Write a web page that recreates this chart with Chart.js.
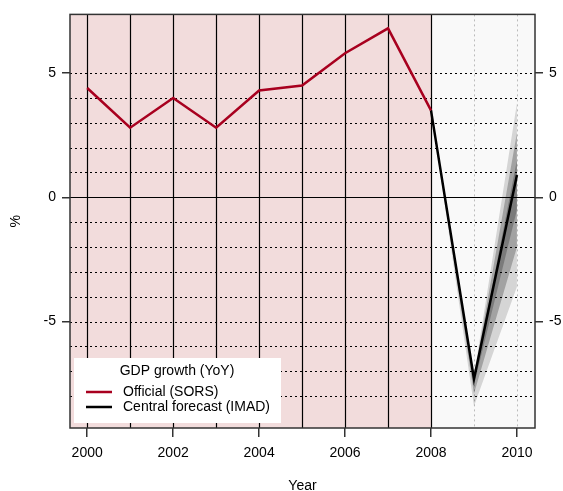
<!DOCTYPE html>
<html>
<head>
<meta charset="utf-8">
<script src="https://cdn.jsdelivr.net/npm/chart.js@4"></script>
<style>
  html, body { margin: 0; padding: 0; background: #fff; }
</style>
</head>
<body>
<canvas id="gdpChart" width="563" height="491"></canvas>
<script>
// data
var years = [2000, 2001, 2002, 2003, 2004, 2005, 2006, 2007, 2008];
var official = [4.4, 2.8, 4.0, 2.8, 4.3, 4.5, 5.8, 6.8, 3.5];
var forecastYears = [2008, 2009, 2010];
var forecast = [3.5, -7.3, 0.9];

// fan bands (outer to inner), skewed to the downside
var fanLow3 = [3.5, -8.4, -3.6];
var fanHigh3 = [3.5, -7.2, 3.8];
var fanLow2 = [3.5, -7.9, -2.0];
var fanHigh2 = [3.5, -7.25, 2.6];
var fanLow1 = [3.5, -7.55, -0.5];
var fanHigh1 = [3.5, -7.3, 1.5];

var xTicks = [2000, 2002, 2004, 2006, 2008, 2010];
var yTicks = [-5, 0, 5];
var yGrid = [-8, -7, -6, -5, -4, -3, -2, -1, 0, 1, 2, 3, 4, 5];
var solidYears = years;
var dottedYears = [2009, 2010];

var FONT = "'Liberation Sans', Arial, sans-serif";

function pts(xs, ys) {
    return xs.map(function (x, i) { return { x: x, y: ys[i] }; });
}

var backdrop = {
    id: 'backdrop',
    beforeDatasetsDraw: function (chart) {
        var ctx = chart.ctx, a = chart.chartArea;
        var sx = chart.scales.x, sy = chart.scales.y;
        var split = Math.round(sx.getPixelForValue(2008));
        ctx.save();
        ctx.fillStyle = '#f2dcdc';
        ctx.fillRect(a.left, a.top, split - a.left, a.bottom - a.top);
        ctx.fillStyle = '#f9f9f9';
        ctx.fillRect(split, a.top, a.right - split, a.bottom - a.top);

        // horizontal lines
        ctx.strokeStyle = '#000';
        ctx.lineWidth = 1.2;
        yGrid.forEach(function (v) {
            var py = Math.round(sy.getPixelForValue(v)) + 0.5;
            ctx.setLineDash(v === 0 ? [] : [2, 3]);
            ctx.beginPath();
            ctx.moveTo(a.left, py);
            ctx.lineTo(a.right, py);
            ctx.stroke();
        });

        // vertical lines
        ctx.setLineDash([]);
        solidYears.forEach(function (v) {
            var px = Math.round(sx.getPixelForValue(v)) + 0.5;
            ctx.beginPath();
            ctx.moveTo(px, a.top);
            ctx.lineTo(px, a.bottom);
            ctx.stroke();
        });
        ctx.strokeStyle = '#bbbbbb';
        ctx.lineWidth = 1;
        ctx.setLineDash([2, 3]);
        dottedYears.forEach(function (v) {
            var px = Math.round(sx.getPixelForValue(v)) + 0.5;
            ctx.beginPath();
            ctx.moveTo(px, a.top);
            ctx.lineTo(px, a.bottom);
            ctx.stroke();
        });
        ctx.restore();
    },
    afterDatasetsDraw: function (chart) {
        var ctx = chart.ctx, a = chart.chartArea;
        ctx.save();
        ctx.strokeStyle = '#333';
        ctx.lineWidth = 1.5;
        ctx.strokeRect(a.left, a.top, a.right - a.left, a.bottom - a.top);
        ctx.restore();
    },
    afterDraw: function (chart) {
        // legend box inside the plot
        var ctx = chart.ctx, a = chart.chartArea;
        var sets = chart.data.datasets.filter(function (d) { return d.inLegend; });
        var x0 = a.left + 4, w = 207, h = 65, y0 = a.bottom - 5 - h;
        ctx.save();
        ctx.fillStyle = '#fff';
        ctx.fillRect(x0, y0, w, h);
        ctx.font = '14px ' + FONT;
        ctx.fillStyle = '#000';
        ctx.textBaseline = 'middle';
        ctx.textAlign = 'center';
        ctx.fillText('GDP growth (YoY)', x0 + 103, y0 + 13);
        ctx.textAlign = 'left';
        sets.forEach(function (d, i) {
            var ly = y0 + 34 + i * 15;
            ctx.strokeStyle = d.borderColor;
            ctx.lineWidth = 2.5;
            ctx.beginPath();
            ctx.moveTo(x0 + 12, ly);
            ctx.lineTo(x0 + 38, ly);
            ctx.stroke();
            ctx.fillText(d.label, x0 + 49, ly);
        });
        ctx.restore();
    }
};

var fanColor = 'rgba(0,0,0,0.24)';

new Chart(document.getElementById('gdpChart'), {
    type: 'line',
    data: {
        datasets: [
            { label: 'Official (SORS)', data: pts(years, official), borderColor: '#a8001f', borderWidth: 2.5, pointRadius: 0, fill: false, order: 0, inLegend: true },
            { label: 'Central forecast (IMAD)', data: pts(forecastYears, forecast), borderColor: '#000', borderWidth: 2.5, pointRadius: 0, fill: false, order: 0, inLegend: true },
            { label: 'lo3', data: pts(forecastYears, fanLow3), borderWidth: 0, pointRadius: 0, fill: false, order: 5 },
            { label: 'hi3', data: pts(forecastYears, fanHigh3), borderWidth: 0, pointRadius: 0, fill: 2, backgroundColor: 'rgba(0,0,0,0.14)', order: 5 },
            { label: 'lo2', data: pts(forecastYears, fanLow2), borderWidth: 0, pointRadius: 0, fill: false, order: 4 },
            { label: 'hi2', data: pts(forecastYears, fanHigh2), borderWidth: 0, pointRadius: 0, fill: 4, backgroundColor: fanColor, order: 4 },
            { label: 'lo1', data: pts(forecastYears, fanLow1), borderWidth: 0, pointRadius: 0, fill: false, order: 3 },
            { label: 'hi1', data: pts(forecastYears, fanHigh1), borderWidth: 0, pointRadius: 0, fill: 6, backgroundColor: fanColor, order: 3 }
        ]
    },
    options: {
        responsive: false,
        animation: false,
        layout: { padding: { top: 12, left: 0, right: 0, bottom: 0 } },
        elements: { line: { tension: 0 } },
        plugins: {
            legend: { display: false },
            tooltip: { enabled: false }
        },
        scales: {
            x: {
                type: 'linear',
                position: 'bottom',
                min: 1999.6,
                max: 2010.42,
                afterBuildTicks: function (s) { s.ticks = xTicks.map(function (v) { return { value: v }; }); },
                afterFit: function (s) { s.height = 63; },
                ticks: {
                    color: '#000',
                    font: { family: FONT, size: 14 },
                    padding: 8,
                    maxRotation: 0,
                    autoSkip: false,
                    callback: function (v) { return String(v); }
                },
                grid: { drawOnChartArea: false, tickLength: 9, color: '#333', lineWidth: 1.5 },
                border: { display: false },
                title: { display: true, text: 'Year', color: '#000', font: { family: FONT, size: 14 }, padding: { top: 14, bottom: -4 } }
            },
            y: {
                position: 'left',
                min: -9.28,
                max: 7.36,
                afterBuildTicks: function (s) { s.ticks = yTicks.map(function (v) { return { value: v }; }); },
                afterFit: function (s) { s.width = 70; },
                ticks: {
                    color: '#000',
                    font: { family: FONT, size: 14 },
                    padding: 6,
                    callback: function (v) { return String(v); }
                },
                grid: { drawOnChartArea: false, tickLength: 8, color: '#333', lineWidth: 1.5 },
                border: { display: false },
                title: { display: true, text: '%', color: '#000', font: { family: FONT, size: 14 }, padding: { top: 8, bottom: 0 } }
            },
            y2: {
                position: 'right',
                min: -9.28,
                max: 7.36,
                afterBuildTicks: function (s) { s.ticks = yTicks.map(function (v) { return { value: v }; }); },
                afterFit: function (s) { s.width = 28; },
                ticks: {
                    color: '#000',
                    font: { family: FONT, size: 14 },
                    padding: 6,
                    callback: function (v) { return String(v); }
                },
                grid: { drawOnChartArea: false, tickLength: 8, color: '#333', lineWidth: 1.5 },
                border: { display: false }
            }
        }
    },
    plugins: [backdrop]
});
</script>
</body>
</html>
